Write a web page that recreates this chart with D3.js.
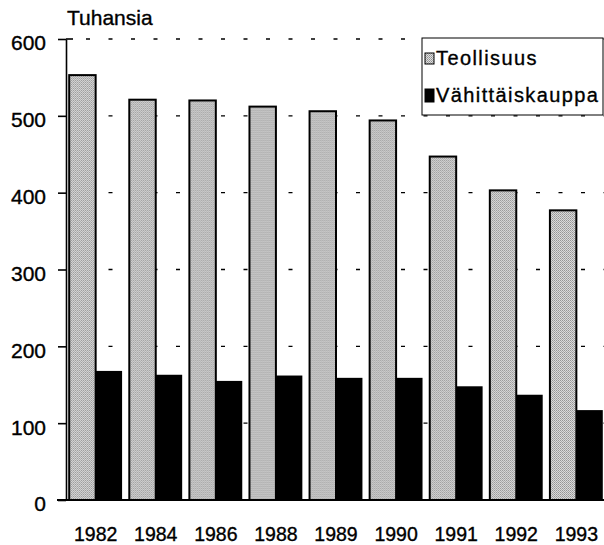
<!DOCTYPE html>
<html>
  <head>
    <meta charset="utf-8">
    <title>Teollisuus ja vähittäiskauppa</title>
    <script src="https://d3js.org/d3.v7.min.js"></script>
    <style>
      body { margin: 0; background: #fff; }
      svg { display: block; font-family: "Liberation Sans", Arial, sans-serif; }
      svg text { stroke: #000; stroke-width: 0.35px; fill: #000; }
      .grid { stroke: #000; stroke-width: 1.4; stroke-dasharray: 4, 18.5; }
    </style>
  </head>
  <body>
    <svg id="chart" width="604" height="545">
      <defs>
        <pattern id="stipple" width="2" height="2" patternUnits="userSpaceOnUse">
          <rect width="2" height="2" fill="#e0e0e0"></rect>
          <rect width="1" height="1" fill="#8e8e8e"></rect>
          <rect x="1" y="1" width="1" height="1" fill="#a4a4a4"></rect>
        </pattern>
      </defs>
    </svg>
    <script>
      // data (thousands)
      var years = ["1982", "1984", "1986", "1988", "1989", "1990", "1991", "1992", "1993"];
      var series = ["Teollisuus", "Vähittäiskauppa"];
      var teollisuus = [553, 521, 520, 512, 506, 494, 447, 403, 377];
      var vahittaiskauppa = [168, 163, 155, 162, 159, 159, 148, 137, 117];
      var yTicks = [0, 100, 200, 300, 400, 500, 600];

      var rows = years.map(function(y, i) {
        return { year: y, values: [teollisuus[i], vahittaiskauppa[i]] };
      });

      svg = d3.select("#chart");

      x0 = d3.scaleBand()
        .domain(years)
        .range([65, 607])
        .paddingInner(0.12)
        .paddingOuter(0.07);
      x1 = d3.scaleBand()
        .domain(series)
        .range([0, x0.bandwidth()]);
      y = d3.scaleLinear()
        .domain([0, 600])
        .range([500, 39]);

      // dashed gridlines
      svg.append("g")
        .selectAll("line")
          .data(yTicks.filter(function(d) { return d > 0; }))
        .enter().append("line")
          .attr("class", "grid")
          .attr("x1", 86)
          .attr("x2", 604)
          .attr("y1", function(d) { return y(d); })
          .attr("y2", function(d) { return y(d); });

      // bars
      groups = svg.append("g")
        .selectAll("g")
          .data(rows)
        .enter().append("g")
          .attr("transform", function(d) { return "translate(" + x0(d.year) + ",0)"; });
      groups.selectAll("rect")
          .data(function(d) { return d.values.map(function(v, i) { return { key: series[i], value: v }; }); })
        .enter().append("rect")
          .attr("x", function(d) { return x1(d.key); })
          .attr("width", x1.bandwidth())
          .attr("y", function(d) { return y(d.value); })
          .attr("height", function(d) { return y(0) - y(d.value); })
          .attr("fill", function(d) { return d.key == series[0] ? "url(#stipple)" : "#000"; })
          .attr("stroke", "#000")
          .attr("stroke-width", function(d) { return d.key == series[0] ? 2 : 0; });

      // y axis
      yAxis = svg.append("g")
        .attr("transform", "translate(66,0)")
        .call(d3.axisLeft(y).tickValues(yTicks).tickSize(8).tickPadding(12).tickSizeOuter(0));
      yAxis.select(".domain").attr("stroke-width", 1.6);
      yAxis.selectAll(".tick line").attr("stroke-width", 1.6);
      yAxis.selectAll("text")
        .attr("dy", "0.52em")
        .style("font-size", "21px");
      // top cap of the axis
      svg.append("line")
        .attr("x1", 66).attr("x2", 73)
        .attr("y1", y(600)).attr("y2", y(600))
        .attr("stroke", "#000").attr("stroke-width", 1.6);

      // baseline
      svg.append("line")
        .attr("x1", 57).attr("x2", 604)
        .attr("y1", y(0)).attr("y2", y(0))
        .attr("stroke", "#000").attr("stroke-width", 2);

      // x axis labels
      xAxis = svg.append("g")
        .attr("transform", "translate(0," + y(0) + ")")
        .call(d3.axisBottom(x0).tickSize(0).tickPadding(27));
      xAxis.select(".domain").remove();
      xAxis.selectAll("text")
        .style("font-size", "19.5px");

      // unit label
      svg.append("text")
        .attr("x", 67)
        .attr("y", 25)
        .style("font-size", "21px")
        .text("Tuhansia");

      // legend
      legend = svg.append("g");
      legend.append("rect")
        .attr("x", 422).attr("y", 38)
        .attr("width", 181).attr("height", 77)
        .attr("fill", "#fff")
        .attr("stroke", "#000")
        .attr("stroke-width", 1);
      legendItems = legend.selectAll(".item")
          .data(series)
        .enter().append("g")
          .attr("class", "item")
          .attr("transform", function(d, i) { return "translate(425," + (53 + i * 36) + ")"; });
      legendItems.append("rect")
        .attr("width", 9)
        .attr("height", function(d, i) { return i == 0 ? 11 : 13; })
        .attr("fill", function(d, i) { return i == 0 ? "url(#stipple)" : "#000"; })
        .attr("stroke", "#000")
        .attr("stroke-width", 1);
      legendItems.append("text")
        .attr("x", 11)
        .attr("y", function(d, i) { return i == 0 ? 12 : 13; })
        .style("font-size", "20px")
        .style("letter-spacing", "1.4px")
        .text(function(d) { return d; });
    </script>
  </body>
</html>
